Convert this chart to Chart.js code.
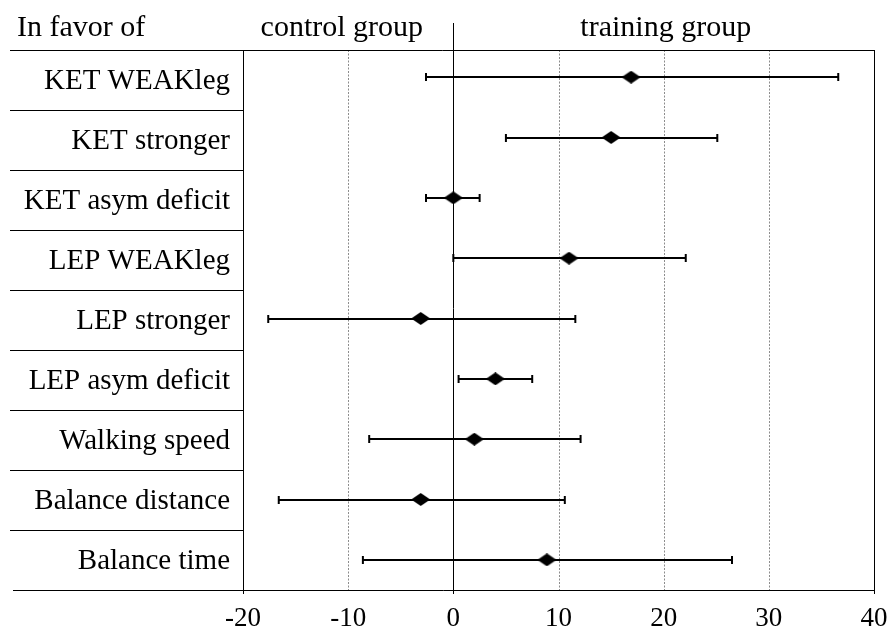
<!DOCTYPE html>
<html><head><meta charset="utf-8">
<script src="https://cdn.jsdelivr.net/npm/chart.js@4"></script>
<style>html,body{margin:0;padding:0;background:#fff}#wrap{width:891px;height:628px;position:relative}</style>
</head><body><div id="wrap"><canvas id="c" width="891" height="628"></canvas></div>
<script>
// ---- data ----
const categories = ["KET WEAKleg","KET stronger","KET asym deficit","LEP WEAKleg","LEP stronger","LEP asym deficit","Walking speed","Balance distance","Balance time"];
const estimates = [16.9, 15.0, 0.0, 11.0, -3.1, 4.0, 2.0, -3.1, 8.9];
const lowerCI  = [-2.6, 5.0, -2.6, 0.0, -17.6, 0.5, -8.0, -16.6, -8.6];
const upperCI  = [36.6, 25.1, 2.5, 22.1, 11.6, 7.5, 12.1, 10.6, 26.5];
const xTicks = [-20, -10, 0, 10, 20, 30, 40];
const xTickLabels = ["-20", "-10", "0", "10", "20", "30", "40"];
const headerLeft = "In favor of";
const headerControl = "control group";
const headerTraining = "training group";

// ---- styling ----
const FONT = '"Liberation Serif", "Times New Roman", serif';
const solidAt = [-20, 0, 40];

// diamond marker as a canvas point style
const diamond = document.createElement('canvas');
diamond.width = 19; diamond.height = 13;
(function(){
  const d = diamond.getContext('2d');
  d.fillStyle = '#000';
  d.beginPath();
  d.moveTo(0, 6.5); d.lineTo(9.5, 0); d.lineTo(19, 6.5); d.lineTo(9.5, 13); d.closePath();
  d.fill();
})();

const forestPlugin = {
  id: 'forest',
  beforeDatasetsDraw(chart) {
    const {ctx, chartArea: a, scales: {x, y}} = chart;
    const tTop = a.top + 3, tBot = a.bottom;
    const px = v => Math.round(x.getPixelForValue(v)) + 0.5;
    const seg = (x1, y1, x2, y2) => { ctx.beginPath(); ctx.moveTo(x1, y1); ctx.lineTo(x2, y2); ctx.stroke(); };
    ctx.save();
    // dotted grid lines
    ctx.strokeStyle = '#8c8c8c'; ctx.lineWidth = 1; ctx.setLineDash([2, 1.5]);
    xTicks.forEach(v => { if (!solidAt.includes(v)) seg(px(v), tTop, px(v), tBot); });
    ctx.setLineDash([]);
    ctx.strokeStyle = '#000'; ctx.lineWidth = 1;
    // solid verticals (with tick marks below the axis)
    seg(px(-20), tTop, px(-20), tBot + 4);
    seg(px(40), tTop, px(40), tBot + 4);
    seg(px(0), tTop - 27, px(0), tBot + 4);
    // top and bottom lines
    seg(10, Math.round(tTop) + 0.5, px(40), Math.round(tTop) + 0.5);
    seg(13, Math.round(tBot) + 0.5, px(40), Math.round(tBot) + 0.5);
    // table row separators
    const rowH = (tBot - tTop) / categories.length;
    for (let i = 1; i < categories.length; i++) {
      const yy = Math.round(tTop + i * rowH) + 0.5;
      seg(10, yy, px(-20), yy);
    }
    // error bars
    ctx.lineWidth = 2;
    categories.forEach((c, i) => {
      const yp = Math.round(y.getPixelForValue(i));
      const x1 = x.getPixelForValue(lowerCI[i]), x2 = x.getPixelForValue(upperCI[i]);
      seg(x1, yp, x2, yp);
      seg(x1, yp - 4, x1, yp + 4);
      seg(x2, yp - 4, x2, yp + 4);
    });
    ctx.restore();
  },
  afterDraw(chart) {
    const {ctx, chartArea: a, scales: {x}} = chart;
    const tTop = a.top + 3, tBot = a.bottom;
    const rowH = (tBot - tTop) / categories.length;
    ctx.save();
    ctx.fillStyle = '#000';
    ctx.textBaseline = 'alphabetic';
    // row labels
    ctx.font = '29px ' + FONT;
    ctx.textAlign = 'right';
    categories.forEach((c, i) => {
      ctx.fillText(c, 230, tTop + (i + 0.5) * rowH + 9);
    });
    // headers
    ctx.font = '30px ' + FONT;
    ctx.textAlign = 'left';
    ctx.fillText(headerLeft, 17, tTop - 14);
    ctx.textAlign = 'center';
    ctx.fillText(headerControl, x.getPixelForValue(-10.6), tTop - 14);
    ctx.fillText(headerTraining, x.getPixelForValue(20.2), tTop - 14);
    // x tick labels
    ctx.font = '27px ' + FONT;
    xTicks.forEach((v, i) => ctx.fillText(xTickLabels[i], x.getPixelForValue(v), tBot + 36));
    ctx.restore();
  }
};

new Chart(document.getElementById('c'), {
  type: 'scatter',
  data: {
    datasets: [{
      data: estimates.map((v, i) => ({x: v, y: i})),
      pointStyle: diamond,
      showLine: false
    }]
  },
  options: {
    responsive: false,
    animation: false,
    events: [],
    devicePixelRatio: 1,
    layout: {padding: {left: 243, right: 17, top: 47, bottom: 38}},
    plugins: {legend: {display: false}, tooltip: {enabled: false}},
    scales: {
      x: {type: 'linear', min: -20, max: 40, display: false},
      y: {type: 'linear', reverse: true, min: -0.5, max: categories.length - 0.5, display: false}
    }
  },
  plugins: [forestPlugin]
});
</script>
</body></html>
